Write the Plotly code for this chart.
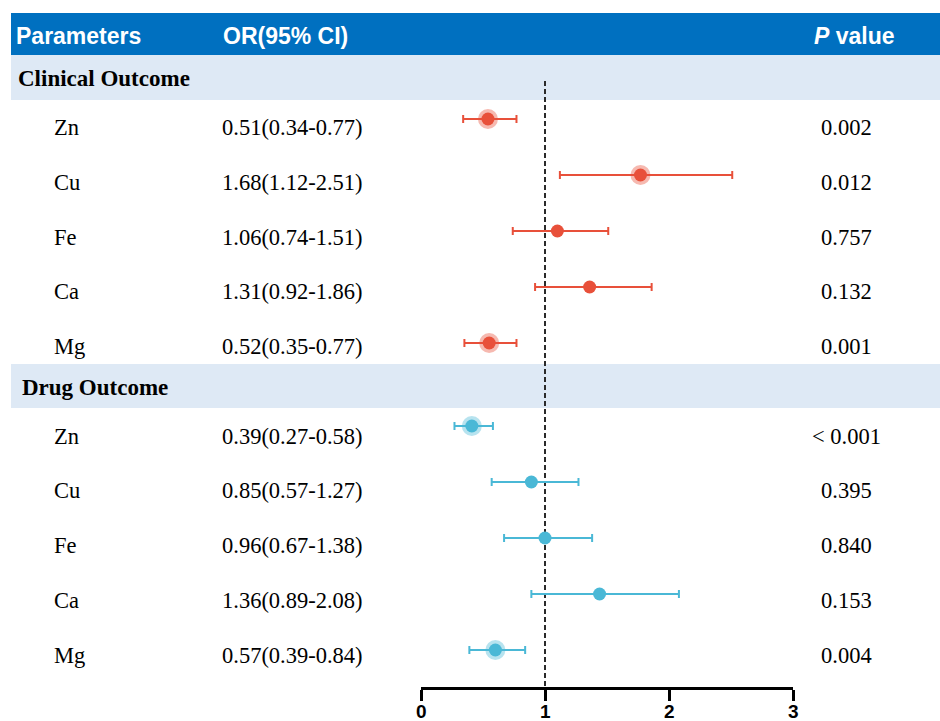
import plotly.graph_objects as go

# ---------------- data ----------------
params = ["Zn", "Cu", "Fe", "Ca", "Mg"]

clin_or = [0.51, 1.68, 1.06, 1.31, 0.52]
clin_lo = [0.34, 1.12, 0.74, 0.92, 0.35]
clin_hi = [0.77, 2.51, 1.51, 1.86, 0.77]
clin_point = [0.54, 1.77, 1.10, 1.36, 0.55]   # point positions as drawn
clin_p = ["0.002", "0.012", "0.757", "0.132", "0.001"]
clin_sig = [True, True, False, False, True]

drug_or = [0.39, 0.85, 0.96, 1.36, 0.57]
drug_lo = [0.27, 0.57, 0.67, 0.89, 0.39]
drug_hi = [0.58, 1.27, 1.38, 2.08, 0.84]
drug_point = [0.41, 0.89, 1.00, 1.44, 0.60]   # point positions as drawn
drug_p = ["< 0.001", "0.395", "0.840", "0.153", "0.004"]
drug_sig = [True, False, False, False, True]

x_ticks = [0, 1, 2, 3]
x_tick_labels = ["0", "1", "2", "3"]
ref_value = 1

# ---------------- layout constants ----------------
W, H = 940, 721
AXIS_Y = 687
RED = "#E8503A"
RED_HALO = "rgba(232,80,58,0.40)"
BLUE = "#4AB8D6"
BLUE_HALO = "rgba(74,184,214,0.40)"
HEADER_BLUE = "#0070C0"
BAND = "#DEE9F5"
SERIF = "Liberation Serif, Times New Roman, serif"
SANS = "Liberation Sans, Arial, sans-serif"

sections = [
    dict(name="Clinical Outcome", band=(55, 100), point_y0=119, text_y0=127.5,
         orv=clin_or, lo=clin_lo, hi=clin_hi, pt=clin_point, p=clin_p, sig=clin_sig,
         color=RED, halo=RED_HALO, label_x=16),
    dict(name="Drug Outcome", band=(364, 408), point_y0=426, text_y0=436,
         orv=drug_or, lo=drug_lo, hi=drug_hi, pt=drug_point, p=drug_p, sig=drug_sig,
         color=BLUE, halo=BLUE_HALO, label_x=20),
]
POINT_STEP = 56
TEXT_STEP = 54.8

fig = go.Figure()
shapes = []
annotations = []

def px(x):
    return x / W

# header band
shapes.append(dict(type="rect", xref="paper", yref="y", x0=px(11), x1=1, y0=13, y1=55,
                   fillcolor=HEADER_BLUE, line=dict(width=0), layer="below"))
for txt, x, anchor in [("Parameters", 14, "left"), ("OR(95% CI)", 221, "left"),
                       ("<i>P</i> value", 854, "center")]:
    annotations.append(dict(text=txt, xref="paper", yref="y", x=px(x), y=36,
                            xanchor=anchor, yanchor="middle", showarrow=False,
                            font=dict(family=SANS, size=23, color="white", weight="bold")))

for s in sections:
    shapes.append(dict(type="rect", xref="paper", yref="y", x0=px(11), x1=1,
                       y0=s["band"][0], y1=s["band"][1], fillcolor=BAND,
                       line=dict(width=0), layer="below"))
    annotations.append(dict(text=s["name"], xref="paper", yref="y", x=px(s["label_x"]),
                            y=(s["band"][0] + s["band"][1]) / 2 + 1,
                            xanchor="left", yanchor="middle", showarrow=False,
                            font=dict(family=SERIF, size=23, color="black", weight="bold")))
    ys = [s["point_y0"] + i * POINT_STEP for i in range(len(params))]
    ty = [s["text_y0"] + i * TEXT_STEP for i in range(len(params))]
    for i, name in enumerate(params):
        annotations.append(dict(text=name, xref="paper", yref="y", x=px(52), y=ty[i],
                                xanchor="left", yanchor="middle", showarrow=False,
                                font=dict(family=SERIF, size=22.5, color="black")))
        or_txt = f"{s['orv'][i]:.2f}({s['lo'][i]:.2f}-{s['hi'][i]:.2f})"
        annotations.append(dict(text=or_txt, xref="paper", yref="y", x=px(292), y=ty[i],
                                xanchor="center", yanchor="middle", showarrow=False,
                                font=dict(family=SERIF, size=22.5, color="black")))
        annotations.append(dict(text=s["p"][i], xref="paper", yref="y", x=px(846), y=ty[i],
                                xanchor="center", yanchor="middle", showarrow=False,
                                font=dict(family=SERIF, size=22.5, color="black")))
    # halos for significant
    hx = [s["pt"][i] for i in range(len(params)) if s["sig"][i]]
    hy = [ys[i] for i in range(len(params)) if s["sig"][i]]
    fig.add_trace(go.Scatter(x=hx, y=hy, mode="markers", hoverinfo="skip",
                             marker=dict(size=20, color=s["halo"], line=dict(width=0)),
                             showlegend=False))
    fig.add_trace(go.Scatter(
        x=s["pt"], y=ys, mode="markers", showlegend=False,
        marker=dict(size=13, color=s["color"], line=dict(width=0)),
        error_x=dict(type="data", symmetric=False,
                     array=[h - p for h, p in zip(s["hi"], s["pt"])],
                     arrayminus=[p - l for p, l in zip(s["pt"], s["lo"])],
                     color=s["color"], thickness=2, width=4)))

# tick labels (placed just under the ticks so they stay inside the page)
for v, lab in zip(x_ticks, x_tick_labels):
    annotations.append(dict(text=lab, xref="x", yref="paper", x=v, y=(H - 711) / H,
                            xanchor="center", yanchor="middle", showarrow=False,
                            font=dict(family=SANS, size=19, color="black", weight="bold")))

# reference dashed line
shapes.append(dict(type="line", xref="x", yref="y", x0=ref_value, x1=ref_value,
                   y0=81, y1=AXIS_Y, line=dict(color="#2a2a2a", width=2, dash="5px,3px"),
                   layer="below"))

fig.update_layout(
    width=W, height=H, margin=dict(l=0, r=0, t=0, b=0, pad=0, autoexpand=False),
    paper_bgcolor="white", plot_bgcolor="rgba(0,0,0,0)",
    shapes=shapes, annotations=annotations,
    xaxis=dict(domain=[px(421), px(793)], range=[0, 3], tickvals=x_ticks,
               showticklabels=False, automargin=False,
               showgrid=False, zeroline=False, showline=True, linecolor="black",
               linewidth=3, ticks="outside", ticklen=11, tickwidth=3, tickcolor="black",
               fixedrange=True),
    yaxis=dict(domain=[(H - AXIS_Y) / H, 1], range=[AXIS_Y, 0], visible=False,
               automargin=False,
               showgrid=False, zeroline=False, fixedrange=True),
)

fig.write_html("out.html", config={"displayModeBar": False},
               post_script="document.body.style.margin='0';")
